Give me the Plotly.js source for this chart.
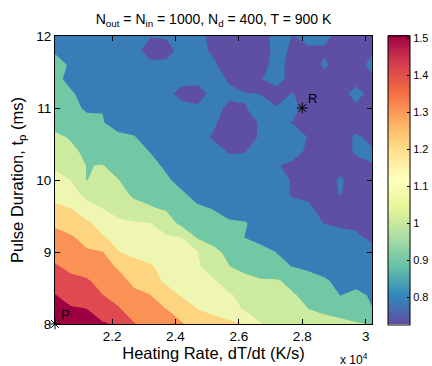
<!DOCTYPE html>
<html>
<head>
<meta charset="utf-8">
<script src="https://cdn.plot.ly/plotly-3.0.1.min.js"></script>
<style>
	html, body { margin: 0; padding: 0; background: #fff; }
	#contourPlot { width: 432px; height: 366px; }
</style>
</head>
<body>
<div id="contourPlot"></div>
<script>

// heating rate (K/s) and pulse duration (ms) grid
const xVals = [20200, 20700, 21200, 21700, 22200, 22700, 23200, 23700, 24200, 24700, 25200,
	25700, 26200, 26700, 27200, 27700, 28200, 28700, 29200, 29700, 30200];
const yVals = [8.0, 8.2, 8.4, 8.6, 8.8, 9.0, 9.2, 9.4, 9.6, 9.8, 10.0,
	10.2, 10.4, 10.6, 10.8, 11.0, 11.2, 11.4, 11.6, 11.8, 12.0];

// values, one row per pulse duration (bottom row first)
const zVals = [
	[1.508, 1.473, 1.447, 1.430, 1.410, 1.338, 1.300, 1.270, 1.252, 1.220, 1.200, 1.180, 1.158, 1.076, 1.060, 1.050, 1.040, 1.020, 1.010, 0.995, 0.985],
	[1.447, 1.430, 1.424, 1.378, 1.343, 1.300, 1.274, 1.250, 1.222, 1.163, 1.135, 1.109, 1.066, 1.048, 1.039, 1.022, 0.989, 0.970, 0.953, 0.935, 0.903],
	[1.424, 1.395, 1.378, 1.336, 1.309, 1.265, 1.250, 1.204, 1.152, 1.126, 1.100, 1.083, 1.048, 1.031, 1.022, 0.996, 0.961, 0.944, 0.899, 0.918, 0.892],
	[1.378, 1.352, 1.343, 1.309, 1.274, 1.230, 1.204, 1.144, 1.118, 1.100, 1.083, 1.031, 1.013, 0.996, 0.996, 0.961, 0.935, 0.909, 0.883, 0.875, 0.866],
	[1.343, 1.317, 1.300, 1.274, 1.239, 1.196, 1.170, 1.135, 1.109, 1.083, 1.039, 0.989, 0.961, 0.935, 0.918, 0.899, 0.883, 0.875, 0.866, 0.857, 0.848],
	[1.300, 1.283, 1.257, 1.250, 1.163, 1.135, 1.118, 1.100, 1.092, 1.076, 1.005, 0.970, 0.944, 0.918, 0.899, 0.883, 0.866, 0.857, 0.848, 0.840, 0.831],
	[1.265, 1.257, 1.222, 1.170, 1.135, 1.118, 1.100, 1.083, 1.076, 0.979, 0.961, 0.935, 0.899, 0.883, 0.866, 0.857, 0.848, 0.840, 0.831, 0.822, 0.805],
	[1.239, 1.213, 1.178, 1.126, 1.092, 1.083, 1.076, 1.039, 0.961, 0.935, 0.918, 0.909, 0.905, 0.875, 0.866, 0.848, 0.840, 0.812, 0.805, 0.805, 0.788],
	[1.178, 1.163, 1.100, 1.076, 1.039, 1.005, 0.996, 0.979, 0.944, 0.909, 0.899, 0.875, 0.866, 0.857, 0.848, 0.831, 0.822, 0.796, 0.788, 0.788, 0.779],
	[1.135, 1.100, 1.057, 1.031, 1.005, 0.979, 0.961, 0.935, 0.909, 0.883, 0.866, 0.857, 0.848, 0.840, 0.831, 0.809, 0.805, 0.788, 0.816, 0.788, 0.779],
	[1.109, 1.072, 0.985, 1.013, 0.989, 0.953, 0.935, 0.909, 0.883, 0.866, 0.857, 0.848, 0.840, 0.831, 0.822, 0.812, 0.796, 0.788, 0.822, 0.788, 0.788],
	[1.057, 1.031, 0.985, 0.990, 0.961, 0.935, 0.918, 0.892, 0.866, 0.848, 0.840, 0.831, 0.831, 0.831, 0.816, 0.805, 0.788, 0.788, 0.796, 0.796, 0.812],
	[1.039, 1.005, 0.970, 0.953, 0.935, 0.918, 0.899, 0.875, 0.857, 0.840, 0.831, 0.809, 0.812, 0.831, 0.822, 0.831, 0.805, 0.788, 0.788, 0.822, 0.822],
	[1.005, 0.979, 0.953, 0.927, 0.909, 0.903, 0.875, 0.857, 0.840, 0.831, 0.808, 0.750, 0.788, 0.822, 0.816, 0.831, 0.812, 0.788, 0.788, 0.822, 0.796],
	[0.953, 0.944, 0.918, 0.903, 0.883, 0.875, 0.857, 0.848, 0.840, 0.831, 0.822, 0.788, 0.788, 0.822, 0.822, 0.812, 0.796, 0.788, 0.788, 0.788, 0.788],
	[0.935, 0.918, 0.892, 0.899, 0.892, 0.866, 0.848, 0.840, 0.831, 0.822, 0.828, 0.805, 0.812, 0.831, 0.816, 0.831, 0.788, 0.750, 0.788, 0.805, 0.788],
	[0.927, 0.909, 0.875, 0.866, 0.857, 0.848, 0.840, 0.831, 0.795, 0.790, 0.831, 0.822, 0.818, 0.812, 0.796, 0.816, 0.788, 0.788, 0.796, 0.831, 0.796],
	[0.918, 0.883, 0.866, 0.857, 0.848, 0.840, 0.840, 0.831, 0.831, 0.831, 0.831, 0.809, 0.740, 0.812, 0.831, 0.796, 0.788, 0.796, 0.788, 0.796, 0.805],
	[0.927, 0.892, 0.866, 0.857, 0.848, 0.848, 0.831, 0.831, 0.840, 0.831, 0.822, 0.788, 0.760, 0.796, 0.831, 0.796, 0.788, 0.822, 0.788, 0.788, 0.831],
	[0.892, 0.866, 0.857, 0.848, 0.848, 0.840, 0.782, 0.784, 0.840, 0.831, 0.805, 0.760, 0.788, 0.788, 0.831, 0.805, 0.805, 0.805, 0.788, 0.779, 0.805],
	[0.875, 0.866, 0.857, 0.857, 0.848, 0.840, 0.818, 0.822, 0.848, 0.840, 0.788, 0.779, 0.788, 0.788, 0.840, 0.812, 0.831, 0.831, 0.788, 0.727, 0.779]
];

const zMin = 0.727;
const zMax = 1.508;

// labelled operating points
const pointX = [20200, 28000];
const pointY = [8, 11];
const pointLabels = ['P', 'R'];

const xTickVals = [22000, 24000, 26000, 28000, 30000];
const xTickText = ['2.2', '2.4', '2.6', '2.8', '3'];
const cbTickVals = [0.8, 0.9, 1.0, 1.1, 1.2, 1.3, 1.4, 1.5];
const cbTickText = ['0.8', '0.9', '1', '1.1', '1.2', '1.3', '1.4', '1.5'];

const bandColors = ['#5e4fa2', '#397db8', '#72c8a4', '#cdeb9e', '#eef6b2', '#fdd581', '#f99254', '#df4a50', '#9e0142'];
const spectralColors = ['#5e4fa2', '#3288bd', '#66c2a5', '#abdda4', '#e6f598', '#ffffbf', '#fee08b', '#fdae61', '#f46d43', '#d53e4f', '#9e0142'];

const FONT = 'Liberation Sans, Arial, Helvetica, sans-serif';

function plotContour(){
	const levelSize = (zMax - zMin) / 9;
	const bandScale = bandColors.map((c, i) => [i / (bandColors.length - 1), c]);
	const barScale = spectralColors.map((c, i) => [i / (spectralColors.length - 1), c]);

	const traces = [
		{
			type: 'contour',
			x: xVals,
			y: yVals,
			z: zVals,
			autocontour: false,
			contours: {
				start: zMin + levelSize,
				end: zMax - levelSize,
				size: levelSize,
				coloring: 'fill',
				showlines: false
			},
			line: { width: 0, smoothing: 0 },
			colorscale: bandScale,
			showscale: false,
			hoverinfo: 'skip'
		},
		{
			// only here to draw the continuous colour bar
			type: 'scatter',
			mode: 'markers',
			x: [pointX[0], pointX[0]],
			y: [pointY[0], pointY[0]],
			hoverinfo: 'skip',
			showlegend: false,
			marker: {
				size: 1,
				opacity: 0,
				color: [zMin, zMax],
				cmin: zMin,
				cmax: zMax,
				colorscale: barScale,
				showscale: true,
				colorbar: {
					x: 1.0505,
					xanchor: 'left',
					y: 0.5,
					yanchor: 'middle',
					len: 1.003,
					lenmode: 'fraction',
					thickness: 22,
					thicknessmode: 'pixels',
					xpad: 0,
					ypad: 0,
					outlinewidth: 1,
					outlinecolor: '#000',
					ticks: 'inside',
					ticklen: 3,
					tickcolor: '#000',
					tickvals: cbTickVals,
					ticktext: cbTickText,
					tickfont: { family: FONT, size: 11, color: '#000' }
				}
			}
		},
		{
			type: 'scatter',
			mode: 'markers',
			x: pointX,
			y: pointY,
			cliponaxis: false,
			showlegend: false,
			hoverinfo: 'skip',
			marker: {
				symbol: 'asterisk-open',
				size: 9,
				color: '#000',
				line: { width: 1, color: '#000' }
			}
		}
	];

	const pointAnnotations = pointLabels.map((label, i) => {
		return {
			text: label,
			x: pointX[i],
			y: pointY[i],
			xref: 'x',
			yref: 'y',
			xanchor: 'left',
			yanchor: 'bottom',
			xshift: 4,
			yshift: 0,
			showarrow: false,
			font: { family: FONT, size: 13, color: '#000' }
		};
	});

	const layout = {
		width: 432,
		height: 366,
		margin: { l: 55, r: 60, t: 36, b: 42, autoexpand: false },
		paper_bgcolor: '#fff',
		plot_bgcolor: '#fff',
		showlegend: false,
		font: { family: FONT, color: '#000' },
		title: {
			text: 'N<sub>out</sub> = N<sub>in</sub> = 1000, N<sub>d</sub> = 400, T = 900 K',
			font: { family: FONT, size: 14, color: '#000' },
			x: 0.5,
			xref: 'paper',
			xanchor: 'center',
			y: 0.948,
			yref: 'container',
			yanchor: 'middle'
		},
		xaxis: {
			title: { text: 'Heating Rate, dT/dt (K/s)', font: { family: FONT, size: 16.5 }, standoff: 3 },
			range: [xVals[0], xVals[xVals.length - 1]],
			tickvals: xTickVals,
			ticktext: xTickText,
			tickfont: { family: FONT, size: 13.5 },
			ticks: 'inside',
			ticklen: 5,
			tickcolor: '#000',
			showline: true,
			linecolor: '#000',
			linewidth: 1,
			mirror: 'ticks',
			showgrid: false,
			zeroline: false,
			automargin: false
		},
		yaxis: {
			title: { text: 'Pulse Duration, t<sub>p</sub> (ms)', font: { family: FONT, size: 16.5 }, standoff: 8 },
			range: [yVals[0], yVals[yVals.length - 1]],
			dtick: 1,
			tickfont: { family: FONT, size: 13.5 },
			ticks: 'inside',
			ticklen: 5,
			tickcolor: '#000',
			showline: true,
			linecolor: '#000',
			linewidth: 1,
			mirror: 'ticks',
			showgrid: false,
			zeroline: false,
			automargin: false
		},
		annotations: pointAnnotations.concat([
			{
				text: 'x 10<sup>4</sup>',
				xref: 'paper',
				yref: 'paper',
				x: 0.995,
				y: -0.12,
				xanchor: 'right',
				yanchor: 'middle',
				showarrow: false,
				font: { family: FONT, size: 12, color: '#000' }
			}
		])
	};

	Plotly.newPlot('contourPlot', traces, layout, { staticPlot: true, displayModeBar: false });
}

plotContour();
</script>
</body>
</html>
